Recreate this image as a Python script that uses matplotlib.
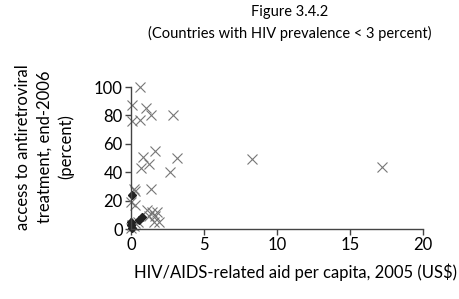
import matplotlib
matplotlib.use("Agg")
import matplotlib.pyplot as plt

# crosses: countries (aid per capita US$, ART access %)
cross_x = [0.65, 0.05, 1.05, 1.35, 0.05, 0.6, 2.85,
           1.67, 0.8, 3.15, 1.2, 0.7, 2.7,
           0.2, 1.35, 0.3, 0.0, 0.3,
           1.1, 1.45, 1.8, 1.2, 1.65, 1.9, 1.55,
           0.1, 0.3, 0.5, 0.0, 0.2,
           8.3, 17.2]
cross_y = [100, 87, 85, 80, 76, 77, 80,
           55, 51, 50, 46, 43, 40,
           28, 28, 27, 19, 17,
           13.5, 12, 12, 9, 9, 5, 5,
           3, 4, 5, 1, 2,
           49, 44]

# diamonds
dia_x = [0.07, 0.75, 0.55, 0.0, 0.0, 0.1]
dia_y = [24, 8.5, 6.5, 5, 2.5, 1]

xticks = [0, 5, 10, 15, 20]
yticks = [0, 20, 40, 60, 80, 100]

plt.rcParams["font.family"] = ["Lato", "DejaVu Sans"]

fig = plt.figure(figsize=(4.59, 2.99), dpi=100)
ax = fig.add_axes([131 / 459, 70 / 299, 292 / 459, 142 / 299])

ax.plot(cross_x, cross_y, "x", color="#777777", markersize=7,
        markeredgewidth=0.8, clip_on=False)
ax.plot(dia_x, dia_y, "D", color="#222222", markersize=4, clip_on=False)

ax.set_xlim(0, 20)
ax.set_ylim(0, 100)
ax.set_xticks(xticks)
ax.set_yticks(yticks)
for s in ["top", "right"]:
    ax.spines[s].set_visible(False)
for s in ["left", "bottom"]:
    ax.spines[s].set_color("#444444")
    ax.spines[s].set_linewidth(1)
ax.tick_params(direction="out", length=4, width=1, color="#444444",
               labelsize=12, pad=2)

ax.set_xlabel("HIV/AIDS-related aid per capita, 2005 (US$)", fontsize=12)
ax.xaxis.set_label_coords(0.565, -0.245)

fig.text(45 / 459, 1 - 147 / 299,
         "access to antiretroviral\ntreatment, end-2006\n(percent)",
         rotation=90, ha="center", va="center", fontsize=12,
         linespacing=1.4, multialignment="center")

fig.text(290 / 459, 1 - 12 / 299, "Figure 3.4.2", ha="center", va="center",
         fontsize=10.5)
fig.text(290 / 459, 1 - 33 / 299, "(Countries with HIV prevalence < 3 percent)",
         ha="center", va="center", fontsize=10.5)

fig.savefig("out.png", dpi=100)
